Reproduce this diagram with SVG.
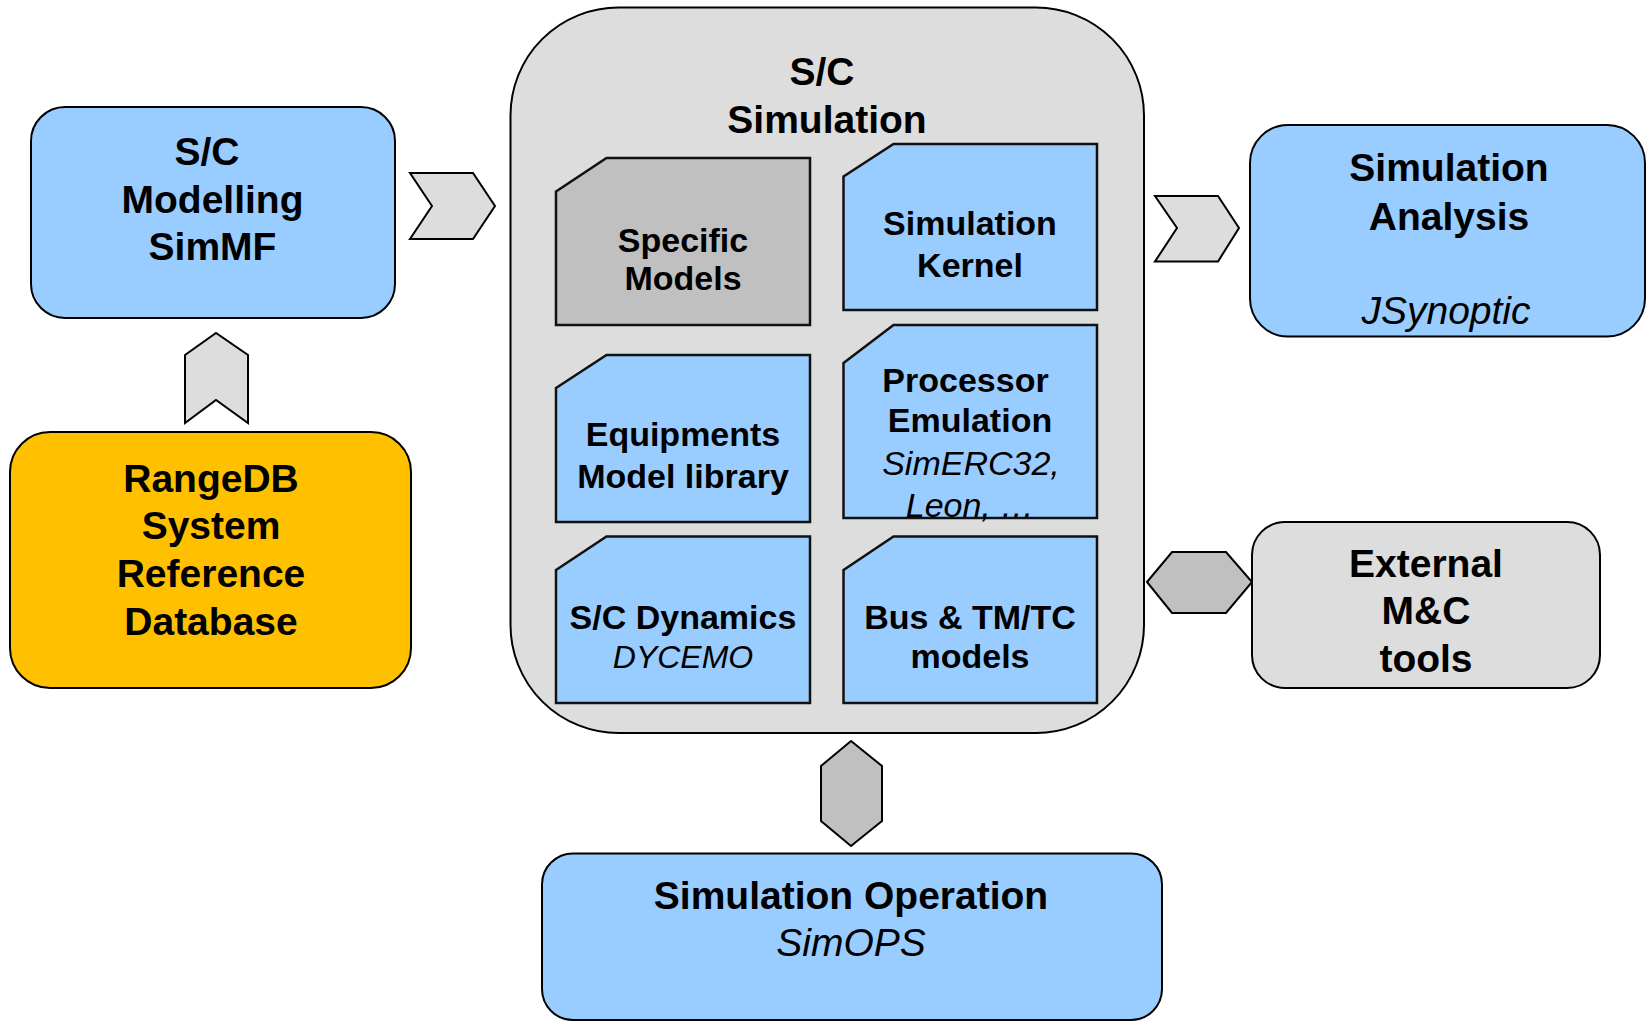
<svg xmlns="http://www.w3.org/2000/svg" width="1648" height="1022" viewBox="0 0 1648 1022">
<style>
.box{stroke:#000;stroke-width:2}
.sub{stroke:#111;stroke-width:2.5}
.blue{fill:#99CCFF}
.grey{fill:#DDDDDD}
.mid{fill:#C0C0C0}
.orange{fill:#FFC000}
.t{font-family:"Liberation Sans",Arial,sans-serif;font-weight:bold;text-anchor:middle;fill:#000}
.L{font-size:39px}
.S{font-size:34px}
.it{font-style:italic;font-weight:normal}
.conn{stroke:#000;stroke-width:2;stroke-linejoin:miter}
</style>
<rect width="1648" height="1022" fill="#fff"/>

<g id="connectors">
  <polygon class="conn grey" points="410,173 473,173 495,206 473,239 410,239 432,206"/>
  <polygon class="conn grey" points="185,355 216,333 248,355 248,423 216,400 185,423"/>
  <polygon class="conn grey" points="1155,196 1218,196 1239,228 1218,261.5 1155,261.5 1177,228"/>
  <polygon class="conn mid" points="851,741 882,766 882,821 851,846 821,821 821,766"/>
  <polygon class="conn mid" points="1147,582 1172,552 1226,552 1252,582 1226,613 1172,613"/>
</g>

<g id="sc-modelling">
  <rect class="box blue" x="31" y="107" width="364" height="211" rx="34"/>
  <text class="t L" x="207" y="165">S/C</text>
  <text class="t L" x="212.5" y="212.5">Modelling</text>
  <text class="t L" x="212.5" y="259.5">SimMF</text>
</g>

<g id="rangedb">
  <rect class="box orange" x="10" y="432" width="401" height="256" rx="40"/>
  <text class="t L" x="211" y="492">RangeDB</text>
  <text class="t L" x="211" y="539">System</text>
  <text class="t L" x="211" y="587">Reference</text>
  <text class="t L" x="211" y="635">Database</text>
</g>

<g id="sc-simulation">
  <rect class="box grey" x="510.5" y="7.5" width="633.5" height="725.5" rx="108"/>
  <text class="t L" x="822" y="84.5">S/C</text>
  <text class="t L" x="827" y="132.5">Simulation</text>
</g>

<g id="specific-models">
  <polygon class="sub mid" points="556,191.5 606.5,158 810,158 810,325 556,325"/>
  <text class="t S" x="683" y="251.5">Specific</text>
  <text class="t S" x="683" y="290">Models</text>
</g>

<g id="simulation-kernel">
  <polygon class="sub blue" points="843.5,176.5 893.5,144 1097,144 1097,310 843.5,310"/>
  <text class="t S" x="970" y="235">Simulation</text>
  <text class="t S" x="970" y="276.5">Kernel</text>
</g>

<g id="equipments">
  <polygon class="sub blue" points="556,388 606.5,355 810,355 810,522 556,522"/>
  <text class="t S" x="683" y="445.5">Equipments</text>
  <text class="t S" x="683" y="488">Model library</text>
</g>

<g id="processor-emulation">
  <polygon class="sub blue" points="843.5,363 893.5,325 1097,325 1097,518 843.5,518"/>
  <text class="t S" x="965.5" y="391.5">Processor</text>
  <text class="t S" x="970" y="431.5">Emulation</text>
  <text class="t S it" x="971" y="475">SimERC32,</text>
  <text class="t S it" x="970" y="516.5">Leon, …</text>
</g>

<g id="sc-dynamics">
  <polygon class="sub blue" points="556,570 606.5,536.5 810,536.5 810,703 556,703"/>
  <text class="t S" x="683" y="629">S/C Dynamics</text>
  <text class="t it" style="font-size:32px" x="683" y="668">DYCEMO</text>
</g>

<g id="bus-tmtc">
  <polygon class="sub blue" points="843.5,570 893.5,536.5 1097,536.5 1097,703 843.5,703"/>
  <text class="t S" x="970" y="629">Bus &amp; TM/TC</text>
  <text class="t S" x="970" y="668">models</text>
</g>

<g id="simulation-analysis">
  <rect class="box blue" x="1250" y="125" width="395" height="211.5" rx="38"/>
  <text class="t L" x="1449" y="181">Simulation</text>
  <text class="t L" x="1449" y="230">Analysis</text>
  <text class="t L it" x="1446" y="324">JSynoptic</text>
</g>

<g id="external-mc">
  <rect class="box grey" x="1252" y="522" width="348" height="166" rx="33"/>
  <text class="t L" x="1426" y="576.5">External</text>
  <text class="t L" x="1426" y="624">M&amp;C</text>
  <text class="t L" x="1426" y="672">tools</text>
</g>

<g id="simulation-operation">
  <rect class="box blue" x="542" y="853.5" width="620" height="166.5" rx="31"/>
  <text class="t L" x="851" y="909">Simulation Operation</text>
  <text class="t L it" x="851" y="956">SimOPS</text>
</g>
</svg>
